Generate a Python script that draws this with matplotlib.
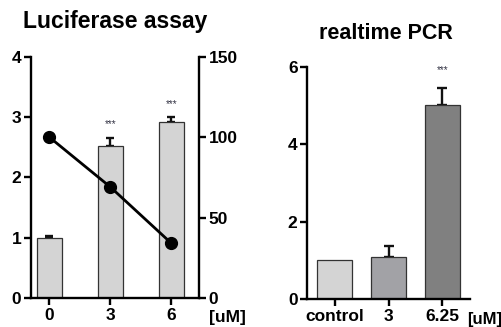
import matplotlib
matplotlib.use("Agg")
import matplotlib.pyplot as plt

plt.rcParams['font.family'] = ['Liberation Sans', 'DejaVu Sans']
plt.rcParams['font.weight'] = 'bold'

# Luciferase assay
luc_labels = ['0', '3', '6']
luc_bars = [1.0, 2.52, 2.92]
luc_err = [0.03, 0.14, 0.08]
luc_line = [100, 69, 34]
luc_stars = ['', '***', '***']

# realtime PCR
pcr_labels = ['control', '3', '6.25']
pcr_vals = [1.0, 1.08, 5.02]
pcr_err = [0.0, 0.28, 0.45]
pcr_colors = ['#d4d4d4', '#a2a2a6', '#808080']
pcr_stars = ['', '', '***']

fig = plt.figure(figsize=(5.02, 3.27), dpi=100)

def style_axis(ax, sides):
    for s in ['top', 'right', 'left', 'bottom']:
        ax.spines[s].set_visible(s in sides)
        ax.spines[s].set_linewidth(1.7)
    ax.tick_params(width=1.7, length=5, labelsize=12.5, pad=2)

def up_errors(ax, vals, errs, capsize):
    # only upper whiskers, skip bars without error
    idx = [i for i, e in enumerate(errs) if e > 0]
    ax.errorbar(idx, [vals[i] for i in idx],
                yerr=[[0] * len(idx), [errs[i] for i in idx]],
                fmt='none', ecolor='#111111', elinewidth=1.7,
                capsize=capsize, capthick=1.7, zorder=1)

# left panel
ax1 = fig.add_axes([0.062, 0.089, 0.334, 0.737])
x = range(len(luc_labels))
ax1.bar(x, luc_bars, width=0.41, color='#d4d4d4', edgecolor='#333333', linewidth=0.9, zorder=2)
up_errors(ax1, luc_bars, luc_err, 3)
for i, s in enumerate(luc_stars):
    if s:
        ax1.text(i, luc_bars[i] + luc_err[i] + 0.22, s, ha='center', va='center',
                 fontsize=7, color='#333344', fontweight='normal')
ax1.set_xlim(-0.3, 2.45)
ax1.set_ylim(0, 4)
ax1.set_yticks([0, 1, 2, 3, 4])
ax1.set_xticks(list(x))
ax1.set_xticklabels(luc_labels)
style_axis(ax1, ['left', 'bottom'])
ax1.text(2.62, -0.2, '[uM]', ha='left', va='top', fontsize=12.5)

ax2 = ax1.twinx()
ax2.plot(list(x), luc_line, color='black', linewidth=2, marker='o', markersize=8.5, zorder=3)
ax2.set_ylim(0, 150)
ax2.set_yticks([0, 50, 100, 150])
style_axis(ax2, ['right'])

fig.text(0.045, 0.935, 'Luciferase assay', fontsize=16.5, fontweight='bold', va='center')

# right panel
ax3 = fig.add_axes([0.612, 0.086, 0.325, 0.709])
xp = range(len(pcr_labels))
ax3.bar(xp, pcr_vals, width=0.66, color=pcr_colors, edgecolor='#333333', linewidth=0.9, zorder=2)
up_errors(ax3, pcr_vals, pcr_err, 3.5)
for i, s in enumerate(pcr_stars):
    if s:
        ax3.text(i, pcr_vals[i] + pcr_err[i] + 0.45, s, ha='center', va='center',
                 fontsize=7, color='#333344', fontweight='normal')
ax3.set_xlim(-0.51, 2.52)
ax3.set_ylim(0, 6)
ax3.set_yticks([0, 2, 4, 6])
ax3.set_xticks(list(xp))
ax3.set_xticklabels(pcr_labels)
style_axis(ax3, ['left', 'bottom'])
ax3.text(2.46, -0.33, '[uM]', ha='left', va='top', fontsize=12)

fig.text(0.769, 0.899, 'realtime PCR', fontsize=15.5, fontweight='bold', ha='center', va='center')

fig.savefig('out.png', dpi=100)
